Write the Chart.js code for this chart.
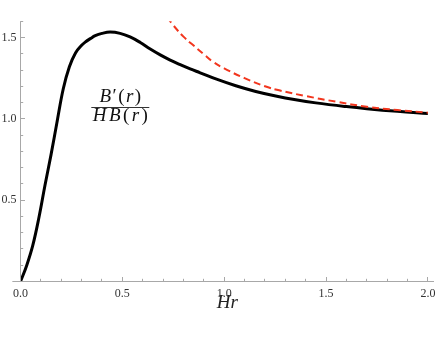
<!DOCTYPE html>
<html><head><meta charset="utf-8">
<script src="https://cdn.jsdelivr.net/npm/chart.js@4"></script>
<style>html,body{margin:0;padding:0;background:#fff}</style>
</head><body>
<canvas id="c" width="436" height="337"></canvas>
<script>
// ---- data ----
const ratioX = [0, 0.03, 0.06, 0.09, 0.12, 0.15, 0.18, 0.21, 0.24, 0.27, 0.30, 0.32, 0.343, 0.367, 0.40, 0.44, 0.489, 0.538, 0.588, 0.637, 0.686, 0.735, 0.784, 0.833, 0.882, 0.959, 1.057, 1.155, 1.253, 1.351, 1.45, 1.6, 1.7, 1.85, 2.0];
const ratioY = [0, 0.097, 0.22, 0.39, 0.59, 0.78, 0.985, 1.185, 1.32, 1.405, 1.452, 1.474, 1.493, 1.511, 1.525, 1.533, 1.525, 1.503, 1.469, 1.429, 1.393, 1.361, 1.333, 1.307, 1.283, 1.245, 1.203, 1.168, 1.14, 1.117, 1.098, 1.075, 1.062, 1.046, 1.033];
const asymX = [0.72, 0.75, 0.8, 0.85, 0.9, 0.94, 1.0, 1.1, 1.2, 1.27, 1.4, 1.55, 1.7, 1.85, 2.0];
const asymY = [1.625, 1.575, 1.505, 1.45, 1.397, 1.355, 1.31, 1.25, 1.2, 1.175, 1.14, 1.105, 1.074, 1.054, 1.038];
const xMajorTicks = [0.0, 0.5, 1.0, 1.5, 2.0];
const xTickLabels = ['0.0', '0.5', '1.0', '1.5', '2.0'];
const yMajorTicks = [0.5, 1.0, 1.5];
const yTickLabels = ['0.5', '1.0', '1.5'];
const xMinorTicks = [0.1,0.2,0.3,0.4,0.6,0.7,0.8,0.9,1.1,1.2,1.3,1.4,1.6,1.7,1.8,1.9];
const yMinorTicks = [0.1,0.2,0.3,0.4,0.6,0.7,0.8,0.9,1.1,1.2,1.3,1.4,1.6];
const xTitle = 'Hr';
const numeratorRuns = [['B','i'],['\u2032','u'],['(','u'],['r','i'],[')','u']];
const denominatorRuns = [['H','i'],['B','i'],['(','u'],['r','i'],[')','u']];
const labelAt = [0.49, 1.075];

const SERIF = '"Liberation Serif", "Times New Roman", serif';
const AXIS = '#a8a8a8';

function pts(xs, ys) { return xs.map((x, i) => ({x, y: ys[i]})); }
function lab(values, labels) {
  return v => { const i = values.findIndex(t => Math.abs(t - v) < 1e-6); return i >= 0 ? labels[i] : ''; };
}

const axesPlugin = {
  id: 'axesInward',
  afterDraw(chart) {
    const {ctx, scales: {x, y}} = chart;
    const y0 = Math.round(y.getPixelForValue(0) - 0.5) + 0.5;
    const x0 = Math.round(x.getPixelForValue(0) - 0.5) + 0.5;
    ctx.save();
    ctx.strokeStyle = AXIS; ctx.lineWidth = 1;
    ctx.beginPath();
    ctx.moveTo(x.getPixelForValue(-0.04), y0); ctx.lineTo(x.right, y0);
    ctx.moveTo(x0, y0); ctx.lineTo(x0, y.top);
    xMajorTicks.forEach(v => { const p = Math.round(x.getPixelForValue(v) - 0.5) + 0.5; ctx.moveTo(p, y0); ctx.lineTo(p, y0 - 4.5); });
    xMinorTicks.forEach(v => { const p = Math.round(x.getPixelForValue(v) - 0.5) + 0.5; ctx.moveTo(p, y0); ctx.lineTo(p, y0 - 2.7); });
    yMajorTicks.forEach(v => { const p = Math.round(y.getPixelForValue(v) - 0.5) + 0.5; ctx.moveTo(x0, p); ctx.lineTo(x0 + 4.5, p); });
    yMinorTicks.forEach(v => { const p = Math.round(y.getPixelForValue(v) - 0.5) + 0.5; ctx.moveTo(x0, p); ctx.lineTo(x0 + 2.7, p); });
    ctx.stroke();
    ctx.restore();
  }
};

function drawRuns(ctx, runs, cx, baseline, size, gap) {
  const fI = 'italic ' + size + 'px ' + SERIF, fU = size + 'px ' + SERIF;
  let w = 0;
  runs.forEach(([t, s], i) => { ctx.font = s === 'i' ? fI : fU; w += ctx.measureText(t).width + (i ? gap : 0); });
  let px = cx - w / 2;
  ctx.textBaseline = 'alphabetic'; ctx.textAlign = 'left';
  runs.forEach(([t, s], i) => { ctx.font = s === 'i' ? fI : fU; if (i) px += gap; ctx.fillText(t, px, baseline); px += ctx.measureText(t).width; });
  return w;
}

const fracPlugin = {
  id: 'fraction',
  afterDatasetsDraw(chart) {
    const {ctx, scales: {x, y}} = chart;
    const cx = x.getPixelForValue(labelAt[0]);
    const ly = y.getPixelForValue(labelAt[1]);
    ctx.save();
    ctx.fillStyle = '#111';
    drawRuns(ctx, numeratorRuns, cx, ly - 4.7, 19, 1.4);
    drawRuns(ctx, denominatorRuns, cx, ly + 14.7, 19, 2.4);
    ctx.strokeStyle = '#333'; ctx.lineWidth = 1;
    ctx.beginPath(); ctx.moveTo(cx - 29, Math.round(ly) + 0.5); ctx.lineTo(cx + 29, Math.round(ly) + 0.5); ctx.stroke();
    ctx.restore();
  }
};

new Chart(document.getElementById('c'), {
  type: 'line',
  data: {
    datasets: [
      { label: 'coth', data: pts(asymX, asymY), borderColor: '#f2361e', borderWidth: 2, borderDash: [7, 4],
        pointRadius: 0, fill: false, tension: 0.4 },
      { label: 'ratio', data: pts(ratioX, ratioY), borderColor: '#000', borderWidth: 3,
        pointRadius: 0, fill: false, tension: 0.4 }
    ]
  },
  options: {
    responsive: false, animation: false, devicePixelRatio: 1,
    layout: { padding: { top: 21.2, right: 2, left: 0, bottom: 0 } },
    plugins: { legend: { display: false }, tooltip: { enabled: false } },
    scales: {
      x: {
        type: 'linear', min: 0, max: 2.03,
        afterBuildTicks: s => { s.ticks = xMajorTicks.map(v => ({value: v})); },
        afterFit: s => { s.height = 55.5; s.paddingLeft = 0; s.paddingRight = 0; },
        grid: { display: false, drawTicks: false },
        border: { display: false },
        ticks: { autoSkip: false, maxRotation: 0, padding: 5, color: '#333',
                 font: { family: SERIF, size: 12 }, callback: lab(xMajorTicks, xTickLabels) },
        title: { display: true, text: xTitle, color: '#222', padding: { top: 0, bottom: 22.5 },
                 font: { family: SERIF, size: 19, style: 'italic' } }
      },
      y: {
        type: 'linear', min: 0, max: 1.6,
        afterBuildTicks: s => { s.ticks = yMajorTicks.map(v => ({value: v})); },
        afterFit: s => { s.width = 20.5; s.paddingTop = 0; s.paddingBottom = 0; },
        grid: { display: false, drawTicks: false },
        border: { display: false },
        ticks: { autoSkip: false, padding: 4, color: '#333',
                 font: { family: SERIF, size: 12 }, callback: lab(yMajorTicks, yTickLabels) }
      }
    }
  },
  plugins: [axesPlugin, fracPlugin]
});
</script>
</body></html>
